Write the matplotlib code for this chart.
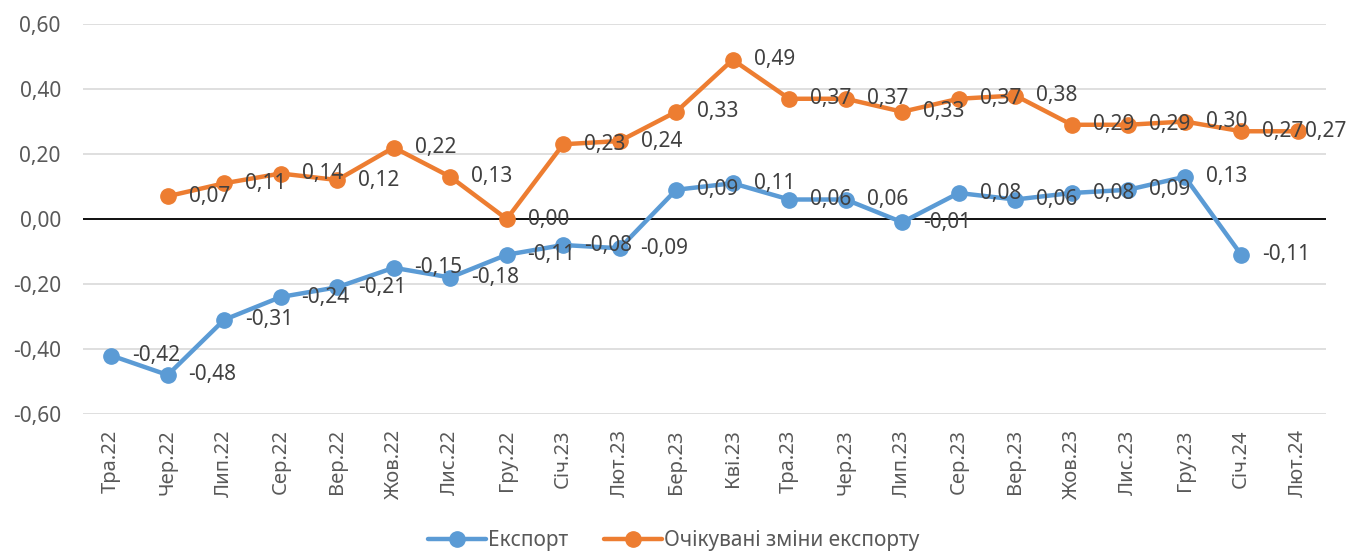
import matplotlib
matplotlib.use("Agg")
import matplotlib.pyplot as plt
from matplotlib.ticker import FuncFormatter

plt.rcParams['font.family'] = ['Noto Sans', 'DejaVu Sans']

months = ['Тра.22', 'Чер.22', 'Лип.22', 'Сер.22', 'Вер.22', 'Жов.22', 'Лис.22',
          'Гру.22', 'Січ.23', 'Лют.23', 'Бер.23', 'Кві.23', 'Тра.23', 'Чер.23',
          'Лип.23', 'Сер.23', 'Вер.23', 'Жов.23', 'Лис.23', 'Гру.23', 'Січ.24',
          'Лют.24']

# export balance, Тра.22 .. Січ.24
export = [-0.42, -0.48, -0.31, -0.24, -0.21, -0.15, -0.18, -0.11, -0.08, -0.09,
          0.09, 0.11, 0.06, 0.06, -0.01, 0.08, 0.06, 0.08, 0.09, 0.13, -0.11]
# expected changes, Чер.22 .. Лют.24
expected = [0.07, 0.11, 0.14, 0.12, 0.22, 0.13, 0.00, 0.23, 0.24, 0.33, 0.49,
            0.37, 0.37, 0.33, 0.37, 0.38, 0.29, 0.29, 0.30, 0.27, 0.27]

blue = '#5B9BD5'
orange = '#ED7D31'
tick_col = '#595959'
lbl_col = '#404040'


def fmt(v):
    return f'{v:.2f}'.replace('.', ',')


fig = plt.figure(figsize=(13.47, 5.56), dpi=100)
ax = fig.add_axes([0.0616, 0.2554, 0.9228, 0.7014])

x_exp = list(range(len(export)))
x_ord = list(range(1, 1 + len(expected)))

ax.plot(x_exp, export, color=blue, lw=3.2, marker='o', ms=11, label='Експорт',
        zorder=3, solid_capstyle='round')
ax.plot(x_ord, expected, color=orange, lw=3.2, marker='o', ms=11,
        label='Очікувані зміни експорту', zorder=3, solid_capstyle='round')

for xs, ys in ((x_exp, export), (x_ord, expected)):
    for x, y in zip(xs, ys):
        # the last label is pushed back inside the chart, like Excel does
        dx = 5 if x == len(months) - 1 else 15
        ax.annotate(fmt(y), (x, y), xytext=(dx, 0), textcoords='offset points',
                    ha='left', va='center', fontsize=15, color=lbl_col, zorder=4)

ax.set_xlim(-0.5, len(months) - 0.5)
ax.set_ylim(-0.6, 0.6)
ax.set_yticks([-0.6, -0.4, -0.2, 0.0, 0.2, 0.4, 0.6])
ax.yaxis.set_major_formatter(FuncFormatter(lambda v, p: fmt(v)))
ax.set_xticks(range(len(months)))
ax.set_xticklabels(months, rotation=90)
ax.tick_params(axis='both', length=0, labelsize=15, colors=tick_col)
ax.tick_params(axis='x', labelsize=14.5, pad=11)
ax.tick_params(axis='y', pad=16)

ax.grid(axis='y', color='#D9D9D9', lw=1.2)
ax.axhline(0, color='black', lw=1.3, zorder=2)
for s in ax.spines.values():
    s.set_visible(False)

fig.legend(loc='lower center', bbox_to_anchor=(0.5, -0.025), ncol=2,
           frameon=False, fontsize=15, handlelength=2.8, columnspacing=1.7,
           handletextpad=0.1, labelcolor=tick_col)

fig.savefig('out.png', dpi=100)
